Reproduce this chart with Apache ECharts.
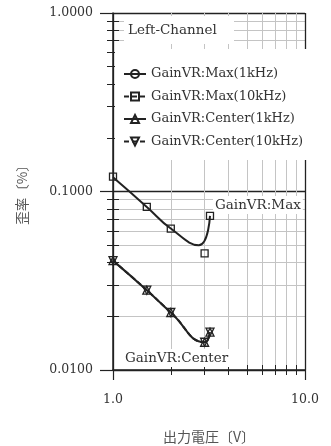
<!DOCTYPE html>
<html>
<head>
<meta charset="utf-8">
<script src="https://cdn.jsdelivr.net/npm/echarts@6/dist/echarts.min.js"></script>
<style>
html,body{margin:0;padding:0;background:#fff}
#chart{width:331px;height:446px}
</style>
</head>
<body>
<div id="chart"></div>
<script>
// Distortion [%] against output voltage [V], log-log
const seriesNames = ['GainVR:Max(1kHz)', 'GainVR:Max(10kHz)', 'GainVR:Center(1kHz)', 'GainVR:Center(10kHz)'];

const maxTrendVolts = [1.0, 1.5, 2.0, 2.8, 3.2];
const maxTrendTHD   = [0.120, 0.082, 0.062, 0.050, 0.073];

const max10kVolts = [1.0, 1.5, 2.0, 3.0, 3.2];
const max10kTHD   = [0.121, 0.082, 0.062, 0.045, 0.073];

const centerVolts  = [1.0, 1.5, 2.0, 3.0, 3.2];
const center1kTHD  = [0.041, 0.028, 0.021, 0.0143, 0.0163];
const center10kTHD = [0.041, 0.028, 0.021, 0.0143, 0.0163];

const xMinorTicks = [2, 3, 4, 5, 6, 7, 8, 9];
const yMinorTicks = [0.02, 0.03, 0.04, 0.05, 0.06, 0.07, 0.08, 0.09,
                     0.2, 0.3, 0.4, 0.5, 0.6, 0.7, 0.8, 0.9];

const xTitle = '出力電圧〔V〕';
const yTitle = '歪率〔%〕';
const boxLabel = 'Left-Channel';
const maxLabel = 'GainVR:Max';
const centerLabel = 'GainVR:Center';

const SERIF = 'DejaVu Serif';
const INK = '#222';
const TEXT = '#333';
const GRID_MINOR = '#c4c4c4';

const pairs = (xs, ys) => xs.map((x, i) => [x, ys[i]]);

const chart = echarts.init(document.getElementById('chart'), null, {renderer: 'canvas'});

const grid = {left: 113, right: 26, top: 13, bottom: 76, outerBoundsMode: 'none', containLabel: false};

const hiddenParts = {
  axisLine: {show: false},
  axisLabel: {show: false}
};

const markerStyle = {color: 'rgba(0,0,0,0)', borderColor: INK, borderWidth: 1.3};

chart.setOption({
  animation: false,
  backgroundColor: '#fff',
  grid: grid,
  xAxis: [
    {
      type: 'log', logBase: 10, min: 1, max: 10, position: 'bottom',
      axisLine: {show: true, lineStyle: {color: INK, width: 1.5}},
      axisTick: {show: true, length: 10, lineStyle: {color: INK, width: 1.2}},
      axisLabel: {
        margin: 23, color: TEXT, fontFamily: SERIF, fontSize: 12.5,
        formatter: v => Number(v).toFixed(1)
      },
      splitLine: {show: true, lineStyle: {color: INK, width: 1.3}},
      name: xTitle, nameLocation: 'middle', nameGap: 60,
      nameTextStyle: {color: '#555', fontFamily: 'Noto Sans CJK JP', fontSize: 14}
    },
    Object.assign({
      type: 'log', logBase: 10, min: 1, max: 10, position: 'bottom',
      axisTick: {show: true, customValues: xMinorTicks, length: 5, lineStyle: {color: INK, width: 1}},
      splitLine: {show: true, lineStyle: {color: GRID_MINOR, width: 1}}
    }, hiddenParts),
    Object.assign({
      type: 'log', logBase: 10, min: 1, max: 10, position: 'bottom',
      axisTick: {show: true, inside: true, customValues: xMinorTicks, length: 5, lineStyle: {color: INK, width: 1}},
      splitLine: {show: false}
    }, hiddenParts)
  ],
  yAxis: [
    {
      type: 'log', logBase: 10, min: 0.01, max: 1, position: 'left',
      axisLine: {show: true, lineStyle: {color: INK, width: 1.5}},
      axisTick: {show: true, length: 13, lineStyle: {color: INK, width: 1.2}},
      axisLabel: {
        margin: 20, color: TEXT, fontFamily: SERIF, fontSize: 12.5,
        formatter: v => Number(v).toFixed(4)
      },
      splitLine: {show: true, lineStyle: {color: INK, width: 1.3}},
      name: yTitle, nameLocation: 'middle', nameRotate: 90, nameGap: 84,
      nameTextStyle: {color: '#555', fontFamily: 'Noto Sans CJK JP', fontSize: 13.5}
    },
    Object.assign({
      type: 'log', logBase: 10, min: 0.01, max: 1, position: 'left',
      axisTick: {show: true, customValues: yMinorTicks, length: 6, lineStyle: {color: INK, width: 1}},
      splitLine: {show: true, lineStyle: {color: GRID_MINOR, width: 1}}
    }, hiddenParts),
    Object.assign({
      type: 'log', logBase: 10, min: 0.01, max: 1, position: 'left',
      axisTick: {show: true, inside: true, customValues: yMinorTicks, length: 6, lineStyle: {color: INK, width: 1}},
      splitLine: {show: false}
    }, hiddenParts)
  ],
  legend: {
    orient: 'vertical', left: 123, top: 67, padding: 0,
    itemWidth: 22, itemHeight: 10, itemGap: 8.5,
    textStyle: {color: TEXT, fontFamily: SERIF, fontSize: 13, lineHeight: 14},
    data: [
      {name: seriesNames[0]},
      {name: seriesNames[1], lineStyle: {opacity: 1, type: [5, 3], width: 2}},
      {name: seriesNames[2]},
      {name: seriesNames[3], lineStyle: {type: [5, 3], width: 2}}
    ]
  },
  graphic: [
    {type: 'rect', z: 3, silent: true, shape: {x: 124, y: 16, width: 110, height: 28}, style: {fill: '#fff'}},
    {type: 'rect', z: 3, silent: true, shape: {x: 115, y: 49, width: 216, height: 111}, style: {fill: '#fff'}},
    {type: 'text', z: 3, silent: true, style: {x: 128, y: 30, text: boxLabel, verticalAlign: 'middle', fill: TEXT, font: '13.5px "DejaVu Serif"'}},
    {type: 'text', z: 3, silent: true, style: {x: 213, y: 205, text: maxLabel, verticalAlign: 'middle', fill: TEXT, font: '13.5px "DejaVu Serif"', backgroundColor: '#fff', padding: [2, 2]}},
    {type: 'text', z: 3, silent: true, style: {x: 123, y: 358, text: centerLabel, verticalAlign: 'middle', fill: TEXT, font: '13.5px "DejaVu Serif"', backgroundColor: '#fff', padding: [2, 2]}}
  ],
  series: [
    {
      name: seriesNames[0], type: 'line', xAxisIndex: 0, yAxisIndex: 0, z: 4,
      data: pairs(maxTrendVolts, maxTrendTHD), smooth: 0.5,
      symbol: 'circle', symbolSize: 7, showSymbol: false,
      itemStyle: markerStyle,
      lineStyle: {color: INK, width: 2}
    },
    {
      name: seriesNames[1], type: 'line', xAxisIndex: 0, yAxisIndex: 0, z: 5,
      data: pairs(max10kVolts, max10kTHD),
      symbol: 'rect', symbolSize: 7,
      itemStyle: markerStyle,
      lineStyle: {color: INK, width: 2, opacity: 0}
    },
    {
      name: seriesNames[2], type: 'line', xAxisIndex: 0, yAxisIndex: 0, z: 4,
      data: pairs(centerVolts, center1kTHD), smooth: 0.5,
      symbol: 'triangle', symbolSize: 8,
      itemStyle: markerStyle,
      lineStyle: {color: INK, width: 2}
    },
    {
      name: seriesNames[3], type: 'line', xAxisIndex: 0, yAxisIndex: 0, z: 4,
      data: pairs(centerVolts, center10kTHD), smooth: 0.5,
      symbol: 'triangle', symbolRotate: 180, symbolSize: 8,
      itemStyle: markerStyle,
      lineStyle: {color: INK, width: 2, type: [5, 3]}
    }
  ]
});
</script>
</body>
</html>
